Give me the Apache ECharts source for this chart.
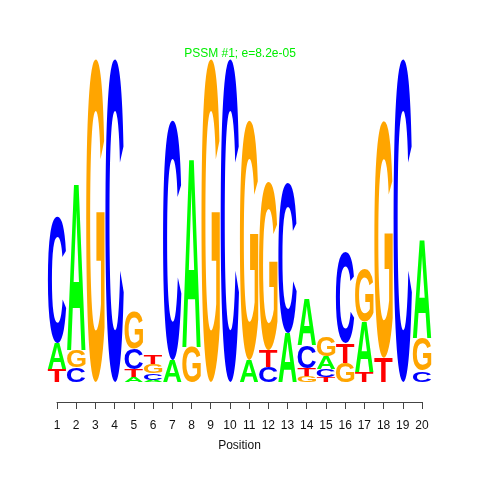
<!DOCTYPE html>
<html>
<head>
<meta charset="utf-8">
<script src="https://cdn.jsdelivr.net/npm/echarts@6/dist/echarts.min.js"></script>
<style>
html,body{margin:0;padding:0;background:#fff;}
#chart{width:480px;height:480px;}
</style>
</head>
<body>
<div id="chart"></div>
<script>
// Sequence logo data (bits) per position
const positions = [1,2,3,4,5,6,7,8,9,10,11,12,13,14,15,16,17,18,19,20];
const letters = ['A','C','G','T'];
const bitsA = [0.16, 1.033, 0, 0, 0.031, 0.012, 0.135, 1.17, 0, 0, 0.135, 0, 0.30, 0.29, 0.08, 0, 0.31, 0, 0, 0.606];
const bitsC = [0.775, 0.092, 0, 1.99, 0.129, 0.043, 1.477, 0, 0, 1.99, 0, 0.095, 0.923, 0.14, 0.05, 0.56, 0, 0, 1.99, 0.068];
const bitsG = [0, 0.105, 1.99, 0, 0.228, 0.055, 0, 0.215, 1.99, 0, 1.477, 1.035, 0, 0.037, 0.12, 0.118, 0.32, 1.46, 0, 0.2];
const bitsT = [0.08, 0, 0, 0, 0.049, 0.058, 0, 0, 0, 0, 0, 0.10, 0, 0.049, 0.03, 0.12, 0.06, 0.148, 0, 0];
const colors = {A:'#00FF00', C:'#0000FF', G:'#FFA500', T:'#FF0000'};
const titleText = 'PSSM #1; e=8.2e-05';

const FONT = 'bold 100px "Liberation Sans"';
// measure glyph ink boxes
const metrics = {};
(function(){
  const cv = document.createElement('canvas');
  const ctx = cv.getContext('2d');
  ctx.font = FONT;
  ctx.textAlign = 'center';
  ctx.textBaseline = 'middle';
  letters.forEach(l => {
    const m = ctx.measureText(l);
    metrics[l] = {L:m.actualBoundingBoxLeft, R:m.actualBoundingBoxRight, A:m.actualBoundingBoxAscent, D:m.actualBoundingBoxDescent};
  });
})();

// build stacked data: [position, letterIndex, y0, y1]
const stackData = [];
const all = {A:bitsA, C:bitsC, G:bitsG, T:bitsT};
positions.forEach((p, i) => {
  const items = letters.map((l, li) => ({l, li, h: all[l][i]})).filter(d => d.h > 0);
  items.sort((a, b) => a.h - b.h);
  let acc = 0;
  items.forEach(d => {
    stackData.push([p, d.li, acc, acc + d.h]);
    acc += d.h;
  });
});

const chart = echarts.init(document.getElementById('chart'), null, {renderer:'canvas'});
chart.setOption({
  animation: false,
  backgroundColor: '#fff',
  title: {
    text: titleText,
    left: 'center',
    top: 43,
    textStyle: {color:'#00EE00', fontSize:12, fontWeight:'normal', fontFamily:'Liberation Sans'}
  },
  grid: {left:57, right:58, top:57, bottom:98},
  xAxis: {
    type:'value', min:1, max:20, interval:1,
    offset: 20,
    axisLine:{show:true, onZero:false, lineStyle:{color:'#444', width:1}},
    axisTick:{show:true, length:7, lineStyle:{color:'#444'}},
    axisLabel:{color:'#111', fontSize:12, fontFamily:'Liberation Sans', margin:18},
    splitLine:{show:false},
    name:'Position', nameLocation:'middle', nameGap:38,
    nameTextStyle:{color:'#111', fontSize:12, fontFamily:'Liberation Sans'}
  },
  yAxis: {type:'value', min:0, max:2, show:false},
  series: [{
    type:'custom',
    clip:false,
    encode:{x:0, y:[2,3]},
    data: stackData,
    renderItem: function(params, api){
      const x = api.value(0), li = api.value(1), y0 = api.value(2), y1 = api.value(3);
      const l = letters[li];
      const tl = api.coord([x - 0.48, y1]);
      const br = api.coord([x + 0.48, y0]);
      const m = metrics[l];
      const w = br[0] - tl[0], h = br[1] - tl[1];
      const sx = w / (m.L + m.R), sy = h / (m.A + m.D);
      return {
        type:'text',
        x: tl[0] + m.L * sx,
        y: tl[1] + m.A * sy,
        scaleX: sx, scaleY: sy,
        style:{text:l, font:FONT, fill:colors[l], align:'center', verticalAlign:'middle'}
      };
    }
  }]
});
</script>
</body>
</html>
